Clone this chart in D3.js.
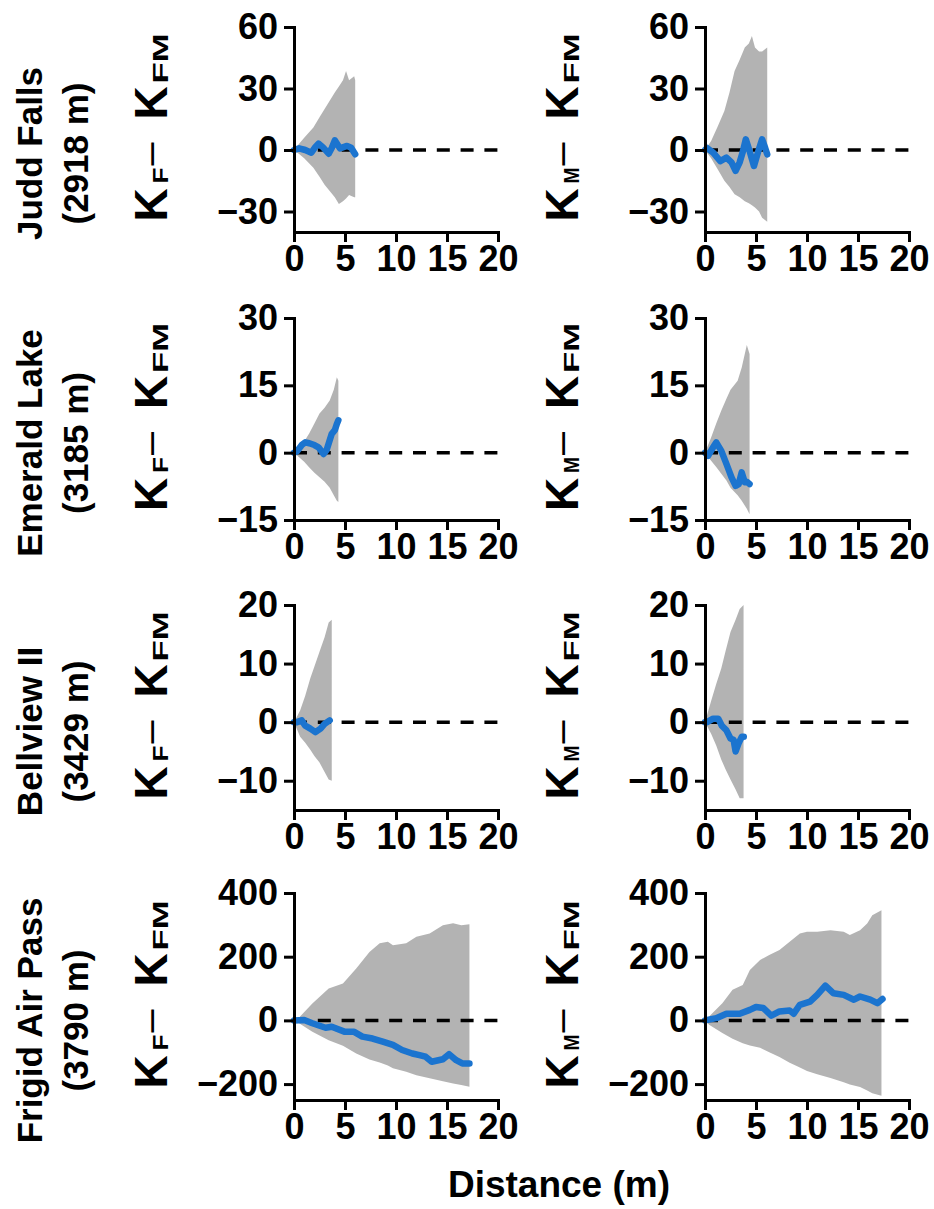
<!DOCTYPE html>
<html>
<head>
<meta charset="utf-8">
<script src="https://cdn.jsdelivr.net/npm/d3@7"></script>
<style>
  body { margin: 0; background: #fff; }
  text { font-family: "Liberation Sans", Arial, Helvetica, sans-serif; font-weight: bold; fill: #000; }
</style>
</head>
<body>
<svg id="chart" width="934" height="1209"></svg>
<script>
// sites (rows)
const siteNames = ["Judd Falls", "Emerald Lake", "Bellview II", "Frigid Air Pass"];
const siteElev = ["(2918 m)", "(3185 m)", "(3429 m)", "(3790 m)"];
const yDomains = [[-40, 60], [-15, 30], [-15, 20], [-250, 400]];
const yTicks = [[-30, 0, 30, 60], [-15, 0, 15, 30], [-10, 0, 10, 20], [-200, 0, 200, 400]];
const xTicks = [0, 5, 10, 15, 20];
const colSubs = ["F", "M"];

// Judd Falls, K_F - K_FM
const juddF_bandX = [0, 0.5, 1, 1.9, 2.5, 3, 3.5, 4.0, 4.4, 4.8, 5.1, 5.4, 5.9, 6.0];
const juddF_hi = [0, 3, 6, 11, 16, 20, 24, 28, 31, 34, 38.5, 34, 36, 34];
const juddF_lo = [0, -2, -4, -8.6, -13, -17, -20, -23, -26.4, -25, -23.7, -22, -23, -23];
const juddF_lineX = [0, 0.5, 1.1, 1.7, 2.1, 2.4, 2.8, 3.4, 3.7, 4.0, 4.5, 5.2, 5.6, 6.0];
const juddF_lineY = [0, 0.8, 0, -1.3, 1.5, 3.1, 1.5, -1.8, 1, 4.7, 0.8, 2, 1.1, -2.1];

// Judd Falls, K_M - K_FM
const juddM_bandX = [0, 0.6, 1.2, 1.9, 2.4, 2.9, 3.4, 3.9, 4.3, 4.6, 4.9, 5.3, 5.6, 6.1];
const juddM_hi = [0, 4.4, 11, 19, 28, 38.5, 44, 50, 52, 55.6, 50, 48, 48, 50];
const juddM_lo = [0, -4, -9, -15, -18, -21.6, -23, -25, -26, -27, -28, -30, -33, -35];
const juddM_lineX = [0, 0.2, 0.8, 1.5, 2.1, 2.6, 3.0, 3.4, 3.7, 4.0, 4.4, 4.8, 5.2, 5.6, 5.9, 6.1];
const juddM_lineY = [0, 1, -1.3, -5.4, -3.7, -6, -10.2, -6, -1, 5.2, -1, -7.8, -1, 5.2, 1, -2.1];

// Emerald Lake
const emerF_bandX = [0, 0.5, 1.0, 1.5, 2.0, 2.5, 3.0, 3.5, 3.9, 4.2, 4.35];
const emerF_hi = [0, 1, 2.5, 4.3, 6.5, 8.7, 10, 11.6, 14, 16.8, 16];
const emerF_lo = [0, -1, -2, -3.3, -4.5, -5.5, -6.5, -7.8, -9.5, -10.7, -11];
const emerF_lineX = [0, 0.3, 0.8, 1.1, 1.5, 2.0, 2.4, 2.9, 3.2, 3.7, 4.0, 4.2, 4.35];
const emerF_lineY = [0, 0.3, 1.8, 2.3, 2.1, 1.7, 1.2, -0.3, 0.6, 4.2, 5.0, 6.4, 7.2];

const emerM_bandX = [0, 0.6, 1.1, 1.6, 2.1, 2.5, 3.2, 3.6, 4.1, 4.37];
const emerM_hi = [0, 3.4, 6.5, 9.4, 12, 14, 16, 19, 24, 22];
const emerM_lo = [0, -1.8, -3.2, -4.7, -6.2, -7.8, -9.5, -10.7, -12.5, -13.7];
const emerM_lineX = [0, 0.3, 0.8, 1.1, 1.6, 2.1, 2.6, 3.0, 3.3, 3.6, 3.9, 4.1, 4.37];
const emerM_lineY = [0, -0.7, 1.2, 2.3, 0.4, -2.5, -5.5, -7.4, -7, -4.4, -6.6, -6.5, -7];

// Bellview II
const bellF_bandX = [0, 0.6, 1.1, 1.6, 2.0, 2.5, 3.0, 3.4, 3.7];
const bellF_hi = [0, 2, 4.5, 7.5, 9.5, 12, 14.5, 17, 17.5];
const bellF_lo = [0, -2.5, -3.5, -4.7, -5.8, -6.9, -8.5, -9.8, -10];
const bellF_lineX = [0, 0.3, 0.75, 1.1, 1.6, 2.1, 2.6, 3.0, 3.5];
const bellF_lineY = [0, 0, 0.3, -0.6, -1.1, -1.7, -1.1, -0.3, 0.3];

const bellM_bandX = [0, 0.6, 1.1, 1.6, 2.0, 2.5, 3.0, 3.4, 3.78];
const bellM_hi = [0, 3.6, 6.5, 9.2, 12, 15.4, 17.5, 19.3, 20];
const bellM_lo = [0, -2, -4, -6.4, -8, -9.8, -11.5, -13, -13];
const bellM_lineX = [0, 0.2, 0.8, 1.3, 1.65, 2.1, 2.5, 2.8, 3.0, 3.3, 3.6, 3.8];
const bellM_lineY = [0, 0, 0.6, 0.6, -0.6, -1.4, -2.8, -3, -5, -3.6, -2.5, -2.5];

// Frigid Air Pass
const frigF_bandX = [0, 0.5, 1.8, 3.4, 4.8, 6.1, 7.4, 8.4, 9.2, 9.7, 11.0, 12.0, 13.3, 14.6, 15.6, 16.4, 17.2];
const frigF_hi = [0, 9, 53, 100, 116, 163, 215, 242, 247, 236, 242, 263, 273, 299, 305, 299, 302];
const frigF_lo = [0, -9, -36, -62, -80, -104, -123, -132, -142, -150, -161, -172, -182, -191, -198, -203, -208];
const frigF_lineX = [0, 1.0, 1.8, 3.1, 3.7, 5.0, 5.9, 6.7, 7.7, 8.7, 9.7, 10.6, 11.6, 12.3, 12.9, 13.5, 14.6, 15.2, 15.9, 16.5, 17.2];
const frigF_lineY = [0, 1, -9, -23, -20, -36, -36, -51, -57, -67, -77, -93, -104, -109, -114, -130, -122, -106, -125, -135, -135];

const frigM_bandX = [0, 0.4, 1.7, 2.7, 3.7, 4.4, 5.4, 6.3, 7.3, 8.3, 9.3, 10.0, 11.0, 12.3, 13.6, 14.2, 15.2, 15.9, 16.4, 17.3];
const frigM_hi = [0, 12, 54, 96, 111, 158, 190, 205, 221, 247, 273, 278, 278, 283, 278, 268, 283, 304, 330, 346];
const frigM_lo = [0, -14, -40, -58, -72, -79, -86, -100, -115, -133, -148, -159, -169, -181, -194, -201, -209, -220, -229, -237];
const frigM_lineX = [0, 1.1, 2.1, 3.4, 4.4, 5.0, 5.7, 6.5, 7.3, 8.3, 8.7, 9.3, 10.3, 11.0, 11.8, 12.6, 13.6, 14.6, 15.2, 16.2, 16.9, 17.4];
const frigM_lineY = [0, 7, 21, 21, 33, 42, 39, 15, 28, 31, 21, 49, 59, 80, 109, 85, 80, 65, 75, 65, 54, 67];

const panels = [
    [[juddF_bandX, juddF_hi, juddF_lo, juddF_lineX, juddF_lineY], [juddM_bandX, juddM_hi, juddM_lo, juddM_lineX, juddM_lineY]],
    [[emerF_bandX, emerF_hi, emerF_lo, emerF_lineX, emerF_lineY], [emerM_bandX, emerM_hi, emerM_lo, emerM_lineX, emerM_lineY]],
    [[bellF_bandX, bellF_hi, bellF_lo, bellF_lineX, bellF_lineY], [bellM_bandX, bellM_hi, bellM_lo, bellM_lineX, bellM_lineY]],
    [[frigF_bandX, frigF_hi, frigF_lo, frigF_lineX, frigF_lineY], [frigM_bandX, frigM_hi, frigM_lo, frigM_lineX, frigM_lineY]]
];

// layout
const colLeft = [294, 705];
const plotW = 204;
const rowTop = [27, 318, 605, 893];
const rowBottom = [232, 520, 810, 1100];

const svg = d3.select('#chart');

function yLabel(g, cx, cy, sub) {
    // rotated label K_sub - K_FM, built piece by piece
    const t = g.append('g').attr('transform', `translate(${cx},${cy}) rotate(-90)`);
    t.append('text').attr('x', -95).attr('font-size', 46).text('K');
    t.append('text').attr('x', -57).attr('y', 1).attr('font-size', 22)
        .attr('textLength', 16).attr('lengthAdjust', 'spacingAndGlyphs').text(sub);
    t.append('text').attr('x', -39).attr('y', -4).attr('font-size', 40).style('font-weight', 'normal')
        .attr('textLength', 23).attr('lengthAdjust', 'spacingAndGlyphs').text('–');
    t.append('text').attr('x', 7).attr('font-size', 46).text('K');
    t.append('text').attr('x', 43).attr('y', 1).attr('font-size', 22)
        .attr('textLength', 50).attr('lengthAdjust', 'spacingAndGlyphs').text('FM');
}

siteNames.forEach((name, r) => {
    const y = d3.scaleLinear().domain(yDomains[r]).range([rowBottom[r], rowTop[r]]);
    const mid = (rowTop[r] + rowBottom[r]) / 2;

    // row labels
    const lab = svg.append('g').attr('transform', `translate(0,${mid + 24}) rotate(-90)`);
    lab.append('text').attr('y', 42).attr('text-anchor', 'middle').attr('font-size', 35).text(name);
    lab.append('text').attr('y', 88).attr('text-anchor', 'middle').attr('font-size', 35).text(siteElev[r]);

    colSubs.forEach((sub, c) => {
        const [bandX, hi, lo, lineX, lineY] = panels[r][c];
        const x = d3.scaleLinear().domain([0, 20]).range([colLeft[c], colLeft[c] + plotW]);
        const g = svg.append('g');

        const band = bandX.map((v, i) => [v, hi[i], lo[i]]);
        const area = d3.area().x(d => x(d[0])).y0(d => y(d[2])).y1(d => y(d[1]));
        g.append('path').datum(band).attr('d', area).attr('fill', '#b3b3b3');

        // dashed zero line
        g.append('line')
            .attr('x1', x(0)).attr('x2', x(20)).attr('y1', y(0)).attr('y2', y(0))
            .attr('stroke', '#000').attr('stroke-width', 3.5).attr('stroke-dasharray', '13,10.8');

        const pts = lineX.map((v, i) => [v, lineY[i]]);
        const line = d3.line().x(d => x(d[0])).y(d => y(d[1]));
        g.append('path').datum(pts).attr('d', line)
            .attr('fill', 'none').attr('stroke', '#1b74cf').attr('stroke-width', 6.5)
            .attr('stroke-linejoin', 'round').attr('stroke-linecap', 'round');

        // axes
        const ya = g.append('g').attr('transform', `translate(${x(0)},0)`)
            .call(d3.axisLeft(y).tickValues(yTicks[r]).tickSize(10).tickPadding(6).tickSizeOuter(0));
        const xa = g.append('g').attr('transform', `translate(0,${rowBottom[r]})`)
            .call(d3.axisBottom(x).tickValues(xTicks).tickSize(10).tickPadding(3).tickSizeOuter(0));
        [ya, xa].forEach(a => {
            a.attr('font-family', null).attr('font-size', null);
            a.selectAll('.domain').attr('stroke-width', 3).attr('stroke-linecap', 'square');
            a.selectAll('.tick line').attr('stroke-width', 3);
            a.selectAll('text').attr('font-size', 36);
        });

        yLabel(svg, colLeft[c] - 127, mid - 3, sub);
    });
});

svg.append('text').attr('x', 559).attr('y', 1197).attr('text-anchor', 'middle')
    .attr('font-size', 37).text('Distance (m)');
</script>
</body>
</html>
